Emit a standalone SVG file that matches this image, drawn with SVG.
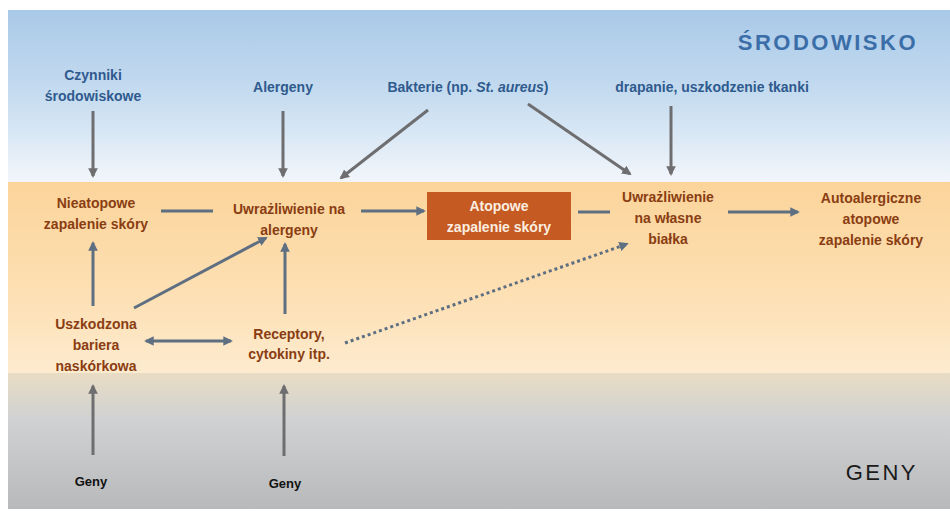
<svg xmlns="http://www.w3.org/2000/svg" width="950" height="511" viewBox="0 0 950 511">
<defs>
<linearGradient id="gBlue" x1="0" y1="0" x2="0" y2="1">
<stop offset="0" stop-color="#a9c9e8"/>
<stop offset="0.5" stop-color="#c6dcf0"/>
<stop offset="1" stop-color="#f2f6fb"/>
</linearGradient>
<linearGradient id="gOrange" x1="0" y1="0" x2="0" y2="1">
<stop offset="0" stop-color="#fbd49a"/>
<stop offset="0.6" stop-color="#fde0b4"/>
<stop offset="1" stop-color="#fdebcf"/>
</linearGradient>
<linearGradient id="gGray" x1="0" y1="0" x2="0" y2="1">
<stop offset="0" stop-color="#e9dcc4"/>
<stop offset="0.35" stop-color="#cfd1d3"/>
<stop offset="1" stop-color="#b8b9bb"/>
</linearGradient>
<marker id="ah" viewBox="0 0 10 10" refX="8" refY="5" markerWidth="3.2" markerHeight="3.2" orient="auto-start-reverse" markerUnits="strokeWidth">
<path d="M0,0 L10,5 L0,10 z" fill="#6e6e70"/>
</marker>
<marker id="ahb" viewBox="0 0 10 10" refX="8" refY="5" markerWidth="3.2" markerHeight="3.2" orient="auto-start-reverse" markerUnits="strokeWidth">
<path d="M0,0 L10,5 L0,10 z" fill="#5f6f82"/>
</marker>
</defs>
<style>
.t{font-family:"Liberation Sans",Arial,sans-serif;font-weight:bold;font-size:14px;text-anchor:middle}
.env{fill:#2f5a8e}
.br{fill:#8a3d12}
.wh{fill:#fbeee0}
.gn{fill:#111111;font-size:13px}
.big{font-family:"Liberation Sans",Arial,sans-serif;letter-spacing:2.5px;text-anchor:end}
.c{fill:none;stroke:#6e6e70;stroke-width:3;marker-end:url(#ah)}
.o{fill:none;stroke:#5f6f82;stroke-width:3;marker-end:url(#ahb)}
.p{fill:none;stroke:#5f6f82;stroke-width:3}
.d{fill:none;stroke:#5f6f82;stroke-width:3;stroke-dasharray:3 3;marker-end:url(#ahb)}
</style>
<rect x="0" y="0" width="950" height="511" fill="#ffffff"/>
<rect x="8" y="10" width="942" height="172" fill="url(#gBlue)"/>
<rect x="8" y="182" width="942" height="191" fill="url(#gOrange)"/>
<rect x="8" y="373" width="942" height="136" fill="url(#gGray)"/>
<text class="big" x="918" y="50" fill="#3b6ea8" font-size="22" font-weight="bold">ŚRODOWISKO</text>
<text class="big" x="918" y="480" fill="#1a1a1a" font-size="22">GENY</text>

<g id="connectors">
<line class="c" x1="93" y1="111" x2="93" y2="176"/>
<line class="c" x1="283" y1="111" x2="283" y2="176"/>
<line class="c" x1="428" y1="110" x2="341" y2="178"/>
<line class="c" x1="528" y1="104" x2="630" y2="174"/>
<line class="c" x1="671" y1="106" x2="671" y2="174"/>
<line class="p" x1="161" y1="211" x2="213" y2="211"/>
<line class="o" x1="361" y1="211" x2="424" y2="211"/>
<line class="p" x1="578" y1="212" x2="610" y2="212"/>
<line class="o" x1="728" y1="212" x2="798" y2="212"/>
<line class="o" x1="93" y1="306" x2="93" y2="243"/>
<line class="o" x1="134" y1="308" x2="266" y2="238"/>
<line class="o" x1="285" y1="314" x2="285" y2="244"/>
<line class="o" x1="146" y1="341" x2="231" y2="341" style="marker-start:url(#ahb)"/>
<line class="d" x1="345" y1="343" x2="627" y2="244"/>
<line class="c" x1="93" y1="455" x2="93" y2="386"/>
<line class="c" x1="284" y1="456" x2="284" y2="386"/>
</g>

<g id="czynniki"><text class="t env" x="93" y="80">Czynniki</text><text class="t env" x="93" y="101">środowiskowe</text></g>
<g id="alergeny"><text class="t env" x="283" y="92">Alergeny</text></g>
<g id="bakterie"><text class="t env" x="468" y="92">Bakterie (np. <tspan font-style="italic">St. aureus</tspan>)</text></g>
<g id="drapanie"><text class="t env" x="712" y="92">drapanie, uszkodzenie tkanki</text></g>

<g id="nieatopowe"><text class="t br" x="96" y="208">Nieatopowe</text><text class="t br" x="96" y="229">zapalenie skóry</text></g>
<g id="uwrazliwienie-alergeny"><text class="t br" x="289" y="214">Uwrażliwienie na</text><text class="t br" x="289" y="235">alergeny</text></g>
<g id="atopowe"><rect x="427" y="192" width="144" height="48" fill="#c55a22"/><text class="t wh" x="499" y="211">Atopowe</text><text class="t wh" x="499" y="232">zapalenie skóry</text></g>
<g id="uwrazliwienie-bialka"><text class="t br" x="668" y="202">Uwrażliwienie</text><text class="t br" x="668" y="223">na własne</text><text class="t br" x="668" y="244">białka</text></g>
<g id="autoalergiczne"><text class="t br" x="871" y="203">Autoalergiczne</text><text class="t br" x="871" y="224">atopowe</text><text class="t br" x="871" y="245">zapalenie skóry</text></g>
<g id="uszkodzona"><text class="t br" x="96" y="329">Uszkodzona</text><text class="t br" x="96" y="350">bariera</text><text class="t br" x="96" y="371">naskórkowa</text></g>
<g id="receptory"><text class="t br" x="289" y="339">Receptory,</text><text class="t br" x="289" y="359">cytokiny itp.</text></g>
<g id="geny1"><text class="t gn" x="91" y="486">Geny</text></g>
<g id="geny2"><text class="t gn" x="285" y="488">Geny</text></g>
</svg>
